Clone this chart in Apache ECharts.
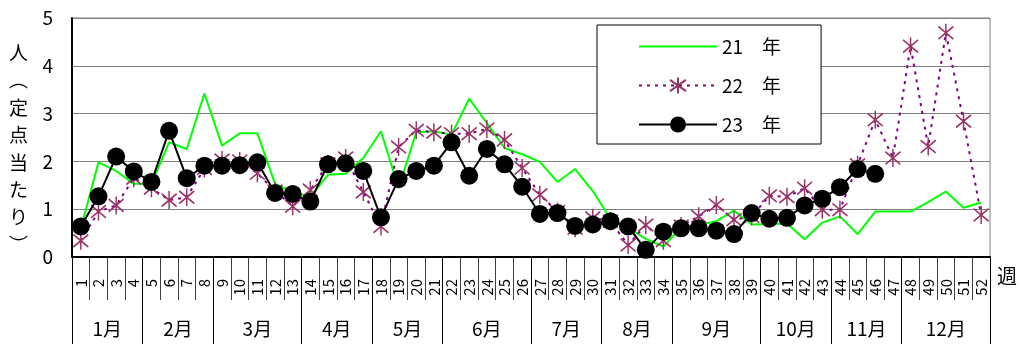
<!DOCTYPE html>
<html>
<head>
<meta charset="utf-8">
<script src="https://cdn.jsdelivr.net/npm/echarts@6/dist/echarts.min.js"></script>
<style>
  html, body { margin: 0; padding: 0; background: #fff; }
  #chart { width: 1020px; height: 344px; }
</style>
</head>
<body>
<div id="chart"></div>
<script>
// Week numbers along the x axis
const weeks = ['1','2','3','4','5','6','7','8','9','10','11','12','13','14','15','16','17','18','19','20',
  '21','22','23','24','25','26','27','28','29','30','31','32','33','34','35','36','37','38','39','40',
  '41','42','43','44','45','46','47','48','49','50','51','52'];

// Month row under the week numbers: names, week boundaries, label centres (in weeks)
const months = ['1月','2月','3月','4月','5月','6月','7月','8月','9月','10月','11月','12月'];
const monthEdges = [0, 4, 8, 13, 17, 21, 26, 30, 34, 39, 43, 47, 52];
const monthCenters = [2, 6, 10.5, 15, 19, 23.5, 28, 32, 36.5, 41, 45, 49.5];

// Reports per sentinel site, by week
const y21 = [0.60, 1.98, 1.80, 1.53, 1.53, 2.40, 2.26, 3.42, 2.33, 2.59, 2.59, 1.53, 1.36, 1.26, 1.72, 1.74,
  2.07, 2.63, 1.44, 2.61, 2.63, 2.56, 3.31, 2.80, 2.28, 2.15, 1.99, 1.57, 1.84, 1.38, 0.80, 0.62, 0.38, 0.22,
  0.62, 0.67, 0.75, 0.97, 0.68, 0.69, 0.70, 0.37, 0.72, 0.85, 0.48, 0.95, 0.95, 0.95, 1.15, 1.37, 1.03, 1.14];
const y22 = [0.34, 0.95, 1.08, 1.65, 1.44, 1.19, 1.25, 1.85, 2.03, 2.01, 1.75, 1.38, 1.06, 1.40, 1.95, 2.07,
  1.36, 0.64, 2.30, 2.65, 2.61, 2.58, 2.58, 2.68, 2.45, 1.86, 1.30, 0.95, 0.60, 0.82, 0.75, 0.25, 0.67, 0.34,
  0.65, 0.85, 1.09, 0.78, 0.85, 1.28, 1.26, 1.44, 0.99, 0.99, 1.93, 2.87, 2.07, 4.41, 2.31, 4.69, 2.84, 0.88];
const y23 = [0.64, 1.27, 2.10, 1.79, 1.57, 2.64, 1.65, 1.91, 1.91, 1.92, 1.98, 1.34, 1.32, 1.16, 1.94, 1.96,
  1.80, 0.83, 1.63, 1.80, 1.91, 2.40, 1.70, 2.26, 1.94, 1.47, 0.90, 0.92, 0.65, 0.68, 0.75, 0.64, 0.15, 0.53,
  0.60, 0.60, 0.55, 0.48, 0.92, 0.80, 0.82, 1.08, 1.22, 1.46, 1.84, 1.74, null, null, null, null, null, null];

const yTicks = [0, 1, 2, 3, 4, 5];

const FONT = '"Noto Sans CJK JP", "Noto Sans", sans-serif';
// six-spoke asterisk marker
const STAR = 'path://M5,0L5,10M0,1.5L10,8.5M0,8.5L10,1.5';

const chart = echarts.init(document.getElementById('chart'), null, { renderer: 'canvas' });

chart.setOption({
  animation: false,
  backgroundColor: '#ffffff',
  textStyle: { fontFamily: FONT },
  grid: {
    left: 72, right: 30, top: 18, bottom: 87,
    show: true, borderColor: '#808080', borderWidth: 1, backgroundColor: 'transparent'
  },
  legend: {
    orient: 'vertical',
    left: 597, top: 25,
    padding: [12, 40, 10, 41],
    itemWidth: 78, itemHeight: 20, itemGap: 20,
    backgroundColor: '#ffffff',
    borderColor: '#000000', borderWidth: 1,
    textStyle: { fontSize: 19, color: '#000', fontFamily: FONT },
    data: [
      // the 21 line has no markers, so its key is a bare line
      { name: '21　年', itemStyle: { opacity: 0 } },
      { name: '22　年' },
      { name: '23　年' }
    ]
  },
  xAxis: [
    {
      type: 'category',
      data: weeks,
      position: 'bottom',
      boundaryGap: true,
      axisLine: { show: true, lineStyle: { color: '#000', width: 2 } },
      axisTick: { show: true, interval: 0, length: 43, lineStyle: { color: '#404040', width: 1 } },
      axisLabel: { interval: 0, rotate: 90, margin: 22, fontSize: 15, color: '#000', fontFamily: FONT },
      splitLine: { show: false }
    },
    {
      type: 'value',
      min: 0, max: 52,
      position: 'bottom',
      axisLine: { show: false },
      axisTick: { show: true, customValues: monthEdges, length: 87, lineStyle: { color: '#000', width: 1 } },
      axisLabel: {
        show: true, customValues: monthCenters, margin: 62, fontSize: 19, color: '#000', fontFamily: FONT,
        formatter: function (v) { const i = monthCenters.indexOf(v); return i >= 0 ? months[i] : ''; }
      },
      splitLine: { show: false }
    }
  ],
  yAxis: {
    type: 'value',
    min: 0, max: 5, interval: 1,
    axisLine: { show: true, lineStyle: { color: '#000', width: 2 } },
    axisTick: { show: false },
    axisLabel: {
      margin: 19, fontSize: 19, color: '#000', fontFamily: FONT,
      formatter: function (v) { return yTicks.indexOf(v) >= 0 ? String(v) : ''; }
    },
    splitLine: { show: true, lineStyle: { color: '#808080', width: 1 } }
  },
  graphic: [
    {
      type: 'text', left: 9, top: 39,
      style: {
        text: ['人', '︵', '定', '点', '当', 'た', 'り', '︶'].join('\n'),
        font: '19px ' + FONT, fill: '#000', lineHeight: 27.4, align: 'center'
      }
    },
    {
      type: 'text', left: 997, top: 266,
      style: { text: '週', font: '20px ' + FONT, fill: '#000' }
    }
  ],
  series: [
    {
      name: '21　年', type: 'line', data: y21, xAxisIndex: 0,
      symbol: 'circle', symbolSize: 0, showSymbol: false,
      lineStyle: { color: '#00ff00', width: 2 },
      itemStyle: { color: '#00ff00' },
      z: 2
    },
    {
      name: '22　年', type: 'line', data: y22, xAxisIndex: 0,
      symbol: STAR, symbolSize: [15, 18], showSymbol: true,
      lineStyle: { color: '#800080', width: 2, type: [3, 5] },
      itemStyle: { color: '#993366', borderColor: '#993366', borderWidth: 1.6 },
      z: 3
    },
    {
      name: '23　年', type: 'line', data: y23, xAxisIndex: 0,
      symbol: 'circle', symbolSize: 18, showSymbol: true,
      lineStyle: { color: '#000', width: 2 },
      itemStyle: { color: '#000', borderColor: '#000', borderWidth: 0 },
      z: 4
    }
  ]
});
</script>
</body>
</html>
